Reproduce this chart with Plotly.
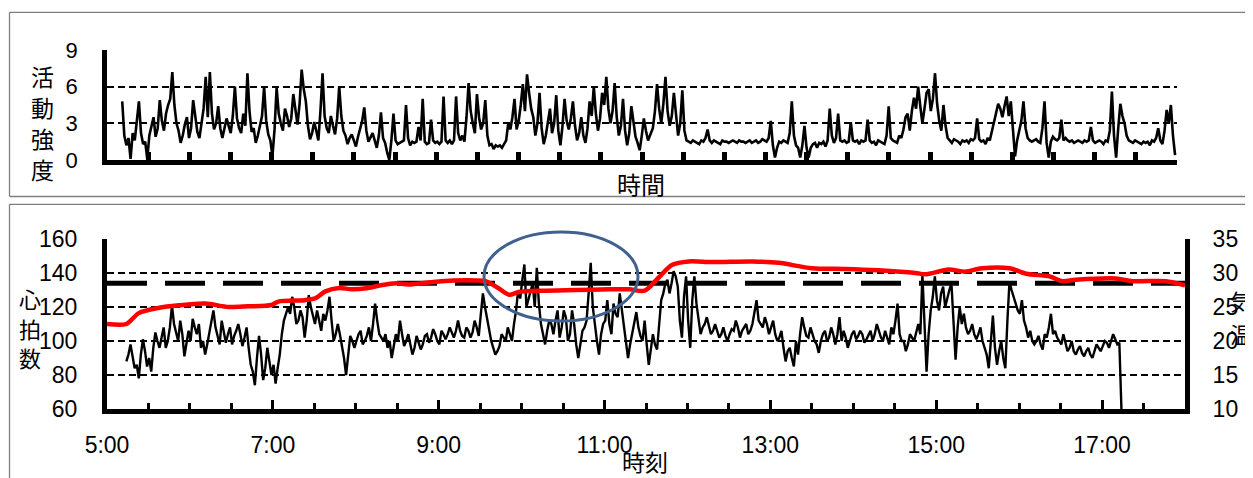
import numpy as np
import plotly.graph_objects as go

W, H = 1253, 478
OFF = 8  # page body margin in the viewer; positions below are screen pixels
FONT = "Liberation Sans, Arial, Noto Sans CJK JP, sans-serif"
CJK = "Noto Sans CJK JP, sans-serif"

# ---------------- data (minutes after 5:00) ----------------
# activity intensity, two segments spread evenly over their spans
act_a = [4.8, 2.0, 1.2, 1.8, 0.1, 2.2, 1.6, 3.0, 4.8, 2.2, 1.3, 1.5, 0.1, 2.0, 2.8, 3.5, 1.9, 2.6, 4.9,
         3.2, 2.4, 3.8, 4.5, 5.0, 7.2, 4.5, 3.0, 2.4, 1.4, 2.0, 2.9, 3.5, 1.8, 2.6, 4.9, 3.4, 2.3, 1.8, 3.0,
         4.2, 6.8, 3.5, 7.2, 3.8, 2.5, 3.0, 4.4, 2.6, 1.8, 2.5, 3.4, 2.8, 2.2, 3.6, 6.0, 3.4, 2.6, 2.2, 3.8,
         2.8, 7.1, 4.0, 2.3, 2.6, 1.4, 2.0, 2.8, 3.6, 6.0, 3.2, 2.1, 1.6, 0.3, 2.5, 5.9, 3.8, 3.0, 2.4, 4.2,
         3.6, 2.7, 3.4, 5.4, 4.0, 2.9, 4.6, 7.4, 5.8, 4.8, 2.8, 1.7, 2.2, 3.1, 2.4, 1.6, 4.0, 7.1, 3.6, 2.6,
         2.2, 3.6, 2.8, 2.1, 3.4, 6.0, 3.6, 2.4, 2.0, 1.3, 1.8, 2.1, 1.6, 1.1, 1.9, 2.6, 3.2, 4.3, 2.4, 1.5,
         1.8, 2.2, 1.6, 1.0, 2.0, 3.9, 1.8, 1.4, 0.6, 0.0, 1.6, 3.8, 1.6, 1.3, 1.4, 1.5, 1.6, 4.5, 1.8, 1.2,
         1.5, 1.4, 1.5, 2.7, 1.6, 5.0, 1.5, 1.3, 1.4, 3.3, 1.6, 1.4, 1.5, 1.3, 1.5, 5.2, 1.6, 1.4, 1.6, 1.3,
         1.6, 5.2, 2.2, 1.6, 2.0, 1.5, 3.5, 6.3, 4.0, 3.0, 2.2, 5.4, 3.5, 2.5, 3.0, 4.9, 2.0, 1.2, 1.3, 0.9,
         1.2, 1.1, 1.2, 1.0, 1.3, 1.6, 3.0, 2.5, 3.5, 5.0, 2.5, 3.2, 4.5, 6.2, 4.0, 7.0, 5.5, 4.2, 3.5, 2.0,
         3.0, 5.5, 2.6, 1.3, 2.0, 3.3, 4.2, 2.2, 3.0, 5.3, 2.4, 1.2, 2.8, 5.0, 3.2, 2.5, 3.4, 4.8, 2.8, 1.6,
         2.2, 3.5, 2.0, 1.4, 2.6, 4.8, 3.6, 6.0, 3.8, 2.4, 3.4, 5.5, 4.5, 6.8, 4.2, 3.0, 4.0, 6.3, 3.5, 2.0,
         2.8, 5.0, 2.4, 1.2, 2.2, 4.4, 3.0, 1.9, 1.4, 0.8, 2.0, 3.4, 2.4, 1.6]
act_a_span = [11.1, 394.4]
act_b = [2.6, 4.0, 6.2, 4.2, 3.0, 4.6, 6.8, 4.0, 2.8, 3.6, 5.5, 3.4, 2.0, 3.0, 5.7, 2.4, 1.6, 1.5, 1.4,
         1.6, 1.5, 1.4, 1.3, 1.6, 1.5, 1.8, 2.5, 1.6, 1.4, 1.6, 1.5, 1.4, 1.3, 1.6, 1.5, 1.5, 1.4, 1.5, 1.6,
         1.5, 1.4, 1.6, 1.5, 1.5, 1.4, 1.5, 1.6, 1.4, 1.5, 1.6, 1.4, 1.5, 1.7, 1.6, 1.5, 1.8, 3.2, 1.2, 0.2,
         1.0, 1.5, 1.4, 1.6, 1.5, 1.4, 2.2, 4.8, 2.0, 1.2, 1.0, 0.2, 1.2, 2.8, 1.0, 0.2, 1.0, 1.3, 1.4, 1.0,
         1.4, 1.3, 1.5, 1.1, 1.6, 4.2, 2.0, 1.4, 1.8, 3.8, 1.6, 1.5, 1.6, 1.4, 1.5, 3.1, 1.6, 1.5, 1.6, 1.3,
         1.6, 1.5, 1.6, 3.3, 1.6, 1.4, 1.5, 1.2, 1.6, 1.5, 1.4, 1.3, 2.0, 4.4, 1.8, 1.6, 1.5, 1.4, 2.0, 1.8,
         2.5, 3.5, 3.8, 2.4, 4.0, 5.1, 4.2, 6.0, 4.4, 3.0, 4.2, 5.5, 5.8, 4.0, 5.0, 7.1, 4.6, 3.2, 2.4, 4.5,
         2.8, 1.8, 1.6, 1.4, 1.7, 1.6, 1.5, 1.3, 1.6, 1.5, 1.6, 1.4, 1.7, 1.6, 1.8, 3.4, 1.7, 1.5, 1.6, 1.3,
         1.8, 1.6, 2.4, 3.0, 3.8, 4.6, 4.2, 3.5, 4.4, 5.2, 3.6, 4.8, 2.5, 0.3, 1.6, 2.4, 3.2, 4.8, 2.6, 1.8,
         1.6, 1.5, 1.6, 1.7, 1.5, 1.4, 2.6, 4.8, 1.4, 0.2, 1.5, 1.9, 1.7, 1.6, 1.8, 3.3, 1.6, 1.8, 1.6, 1.5,
         1.6, 1.4, 1.5, 1.6, 1.5, 1.4, 1.6, 1.5, 1.6, 2.7, 1.6, 1.4, 1.5, 1.6, 1.5, 1.3, 1.6, 1.5, 2.4, 5.6,
         2.0, 0.2, 2.6, 4.6, 3.6, 3.0, 2.0, 1.6, 1.5, 1.4, 1.6, 1.5, 1.4, 1.3, 1.5, 1.4, 1.5, 1.2, 1.6, 1.5,
         1.8, 2.6, 1.6, 1.3, 2.4, 4.1, 3.0, 4.5, 2.0, 0.4]
act_b_span = [397.9, 778.6]

# heart rate, 1.5-minute samples, segments with their start minute
hr_step = 1.5
hr_a_start, hr_a = 14, [
    88, 92, 98, 90, 84, 86, 78, 92, 101, 94, 85, 90, 82, 96, 105, 100, 96, 102, 108,
    96, 100, 108, 121, 110, 105, 100, 112, 104, 91, 98, 106, 100, 113, 108, 104, 110, 96, 100, 92,
    98, 104, 110, 118, 108, 102, 98, 112, 106, 99, 104, 108, 98, 103, 106, 110, 104, 97, 102, 108,
    96, 86, 82, 74, 90, 103, 92, 77, 84, 96, 88, 80, 86, 75, 84, 92, 104, 112, 116, 120,
    116, 126, 120, 110, 112, 118, 114, 102, 112, 127, 120, 115, 110, 118, 112, 106, 116, 112, 118, 126,
    112, 100, 104, 110, 104, 98, 90, 80, 94, 103, 100, 96, 100, 104, 106, 98, 100, 103, 108, 100,
    110, 122, 112, 104]
hr_b_start, hr_b = 200, [
    100, 104, 96, 100, 90, 96, 104, 100, 112, 104, 97, 100, 104, 98, 92, 96, 103, 99, 95,
    98, 103, 104, 99, 102, 107, 104, 100, 98, 106, 104, 101, 104, 108, 105, 102, 106, 112, 106, 103,
    102, 108, 106, 102, 105, 112, 108, 103, 116, 128, 120, 113, 106, 100, 96, 92, 94, 97, 104, 102,
    100, 108, 104, 100, 110, 118, 130, 125, 136, 145, 120, 125, 130, 134, 120, 143, 122, 110, 104, 98,
    106, 112, 110, 104, 112, 118, 102, 108, 118, 114, 100, 104, 118, 110, 98, 90, 98, 106, 108, 112,
    128, 146, 120, 108, 100, 92, 104, 110, 112, 124, 110, 104, 122, 116, 114, 128, 118, 110, 100, 90,
    98, 104, 110, 117, 108, 103, 100, 112, 98, 86]
hr_c_start, hr_c = 395, [
    104, 98, 95, 112, 124, 128, 134, 136, 128, 134, 141, 138, 132, 112, 102, 126, 138, 112, 96,
    124, 138, 122, 112, 104, 108, 110, 114, 108, 104, 106, 110, 106, 102, 104, 108, 103, 100, 104, 107,
    106, 112, 108, 102, 106, 108, 110, 104, 106, 110, 116, 124, 112, 110, 108, 114, 110, 104, 108, 112,
    104, 100, 102, 106, 96, 88, 94, 96, 90, 85, 100, 92, 104, 114, 108, 103, 102, 108, 104, 100,
    98, 93, 100, 104, 106, 100, 102, 108, 104, 98, 104, 114, 100, 106, 102, 96, 100, 104, 106, 101,
    103, 106, 104, 99, 101, 104, 106, 100, 104, 110, 106, 102, 100, 106, 102, 98, 108, 104, 112, 122,
    104, 100, 100, 94, 98, 104, 102, 100]
hr_d_start, hr_d = 587, [
    110, 104, 139, 112, 82, 104, 118, 126, 138, 124, 118, 128, 132, 120, 126, 130, 134, 110, 89,
    108, 120, 110, 116, 108, 104, 106, 110, 104, 101, 104, 108, 100, 96, 92, 84, 100, 115, 96, 86,
    94, 100, 90, 84, 112, 135, 130, 126, 122, 118, 116, 124, 112, 108, 102, 106, 100, 98, 100, 103,
    98, 95, 104, 102, 108, 116, 104, 106, 102, 100, 98, 104, 98, 94, 96, 100, 94, 92, 95, 97,
    93, 91, 94, 96, 92, 90, 94, 98, 96, 94, 97, 100, 99, 96, 100, 104, 101, 98, 99, 60]

hr_threshold = 134

temp_min = [0, 14, 23, 37, 52, 71, 88, 102, 119, 124, 143, 151, 158, 168, 177,
            189, 198, 209, 218, 242, 267, 274, 283, 291, 298, 315, 339, 363, 378,
            389, 399, 409, 421, 438, 467, 486, 510, 534, 558, 585, 592, 609, 621,
            633, 653, 665, 682, 691, 701, 730, 742, 766, 780]
temp_c = [22.5, 22.5, 24.1, 24.85, 25.25, 25.5, 25.0, 25.1, 25.3, 25.8, 26.0, 26.3,
          27.3, 27.8, 27.6, 27.8, 28.2, 28.5, 28.3, 28.8, 28.9, 28.8, 27.8, 26.8,
          27.2, 27.4, 27.5, 27.6, 27.6, 27.4, 29.3, 31.2, 31.7, 31.6, 31.7, 31.5,
          30.7, 30.6, 30.4, 30.0, 29.8, 30.5, 30.2, 30.7, 30.7, 29.9, 29.5, 28.8,
          29.0, 29.2, 28.8, 28.8, 28.2]

x_tickvals = [0, 120, 240, 360, 480, 600, 720]
x_ticktext = ["5:00", "7:00", "9:00", "11:00", "13:00", "15:00", "17:00"]
act_ticks = [0, 3, 6, 9]
hr_ticks = [60, 80, 100, 120, 140, 160]
temp_ticks = [10, 15, 20, 25, 30, 35]

# ---------------- build ----------------
def px(x):
    return (x - OFF) / W

def py(y):
    return 1 - (y - OFF) / H

act_x = np.concatenate([np.linspace(act_a_span[0], act_a_span[1], len(act_a)),
                        np.linspace(act_b_span[0], act_b_span[1], len(act_b))])
act_y = act_a + act_b

hr_x, hr_y = [], []
for st, seg in [(hr_a_start, hr_a), (hr_b_start, hr_b), (hr_c_start, hr_c), (hr_d_start, hr_d)]:
    hr_x += [st + hr_step * i for i in range(len(seg))]
    hr_y += seg

fig = go.Figure()
fig.add_trace(go.Scatter(x=act_x, y=act_y, mode="lines", xaxis="x", yaxis="y",
                         line=dict(color="black", width=2.6), showlegend=False,
                         hoverinfo="skip"))
fig.add_trace(go.Scatter(x=hr_x, y=hr_y, mode="lines", xaxis="x2", yaxis="y2",
                         line=dict(color="black", width=2.4), showlegend=False,
                         hoverinfo="skip"))
fig.add_trace(go.Scatter(x=[0, 780], y=[hr_threshold, hr_threshold], mode="lines",
                         xaxis="x2", yaxis="y2",
                         line=dict(color="black", width=5, dash="40px,18px"),
                         showlegend=False, hoverinfo="skip"))
fig.add_trace(go.Scatter(x=temp_min, y=temp_c, mode="lines", xaxis="x2", yaxis="y3",
                         line=dict(color="#ff0000", width=4.5, shape="spline", smoothing=0.8),
                         showlegend=False, hoverinfo="skip"))

grid = dict(showgrid=True, gridcolor="black", gridwidth=1.6, griddash="7px,4px")

fig.update_layout(
    width=W, height=H, autosize=False,
    margin=dict(l=0, r=0, t=0, b=0, pad=0, autoexpand=False),
    paper_bgcolor="white", plot_bgcolor="rgba(0,0,0,0)",
    font=dict(family=FONT, color="black", size=20),
    xaxis=dict(domain=[px(107), px(1177)], anchor="y", range=[0, 780], automargin=False,
               showline=True, linecolor="black", linewidth=4.5,
               ticks="inside", tick0=0, dtick=30, ticklen=8, tickwidth=4.5,
               tickcolor="black", showticklabels=False, showgrid=False, zeroline=False),
    yaxis=dict(domain=[py(160), py(50)], anchor="x", range=[0, 9], automargin=False,
               tickvals=act_ticks, showline=True, linecolor="black", linewidth=4.5,
               ticks="", zeroline=False, tickfont=dict(size=22),
               ticklabelstandoff=20, **grid),
    xaxis2=dict(domain=[px(107), px(1185)], anchor="y2", range=[0, 780], automargin=False,
                tickvals=x_tickvals, ticktext=x_ticktext,
                showline=True, linecolor="black", linewidth=5,
                ticks="inside", ticklen=9, tickwidth=3, tickcolor="black",
                minor=dict(tick0=0, dtick=30, ticks="inside", ticklen=6, tickwidth=3,
                           tickcolor="black", showgrid=False),
                showgrid=False, zeroline=False, tickfont=dict(size=23),
                ticklabelstandoff=11),
    yaxis2=dict(domain=[py(409), py(239)], anchor="x2", range=[60, 160], automargin=False,
                tickvals=hr_ticks, showline=True, linecolor="black", linewidth=5,
                ticks="", zeroline=False, tickfont=dict(size=23),
                ticklabelstandoff=20, **grid),
    yaxis3=dict(overlaying="y2", side="right", anchor="x2", range=[10, 35], automargin=False,
                tickvals=temp_ticks, showline=True, linecolor="black", linewidth=5,
                ticks="", showgrid=False, zeroline=False, tickfont=dict(size=23),
                ticklabelstandoff=18),
)

# frames (open on the right / bottom where the reference is cut)
frame = dict(color="#7f7f7f", width=1.3)
for x0, y0, x1, y1 in [(9.5, 12.3, 1265, 12.3), (9.5, 12.3, 9.5, 196.5), (9.5, 196.5, 1265, 196.5),
                       (9.5, 204.3, 1265, 204.3), (9.5, 204.3, 9.5, 490)]:
    fig.add_shape(type="line", xref="paper", yref="paper",
                  x0=px(x0), x1=px(x1), y0=py(y0), y1=py(y1), line=frame, layer="below")
# ellipse highlight
fig.add_shape(type="circle", xref="paper", yref="paper",
              x0=px(484), x1=px(638), y0=py(321), y1=py(232),
              line=dict(color="#40618f", width=3), layer="above")

def label(text, x, y, size):
    fig.add_annotation(text=text, x=px(x), y=py(y), xref="paper", yref="paper",
                       showarrow=False, xanchor="center", yanchor="middle",
                       font=dict(family=CJK, size=size, color="black"))

for ch, yy in zip("活動強度", [76, 107, 138, 169]):
    label(ch, 42, yy, 23)
label("時間", 641, 183, 24)
for ch, yy in zip("心拍数", [298, 328, 357]):
    label(ch, 30, yy, 22)
for ch, yy in zip("気温", [300, 333]):
    label(ch, 1241, yy, 22)
label("時刻", 645, 461, 23)

fig.write_html("out.html")
